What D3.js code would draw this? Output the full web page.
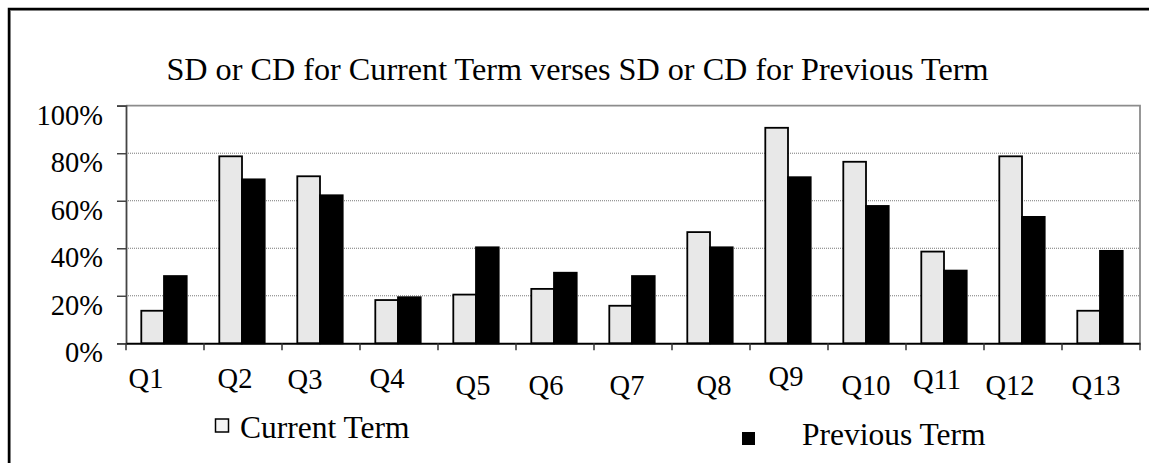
<!DOCTYPE html>
<html>
<head>
<meta charset="utf-8">
<script src="https://cdn.jsdelivr.net/npm/d3@7"></script>
<style>
  html, body { margin: 0; padding: 0; background: #fff; }
  svg { display: block; }
  svg text { font-family: "Liberation Serif", "Times New Roman", serif; }
</style>
</head>
<body>
<div id="chart"></div>
<script>
// chart data
const questions = ["Q1","Q2","Q3","Q4","Q5","Q6","Q7","Q8","Q9","Q10","Q11","Q12","Q13"];
const currentTerm = [13.7, 78.7, 70.3, 18.2, 20.5, 22.9, 15.8, 46.8, 90.7, 76.4, 38.6, 78.7, 13.7];
const previousTerm = [28.3, 69.0, 62.3, 19.4, 40.4, 29.7, 28.3, 40.4, 69.9, 57.8, 30.6, 53.2, 38.9];
const seriesNames = ["Current Term", "Previous Term"];
const yTicks = [0, 20, 40, 60, 80, 100];

// label nudges, the original labels are not centred on their category
const labelShift = [[-19,0],[-8,0],[-16,1],[-12,0],[-4,7],[-9,7],[-6,7],[3,7],[-3,-2],[-1,7],[-8,1],[-13,7],[-5,7]];

const W = 1149, H = 463;
const plot = { left: 126, right: 1140, top: 105.7, bottom: 343.3 };
const serif = '"Liberation Serif", "Times New Roman", serif';

const svg = d3.select("#chart").append("svg")
    .attr("width", W).attr("height", H);

// outer frame (runs off the right / bottom edge like the source)
svg.append("path")
    .attr("d", `M10.5,${H+5} V10.5 H${W+5}`)
    .attr("fill","none").attr("stroke","#aaa").attr("stroke-width",1);
svg.append("path")
    .attr("d", `M9,${H+5} V9 H${W+5}`)
    .attr("fill","none").attr("stroke","#000").attr("stroke-width",2.5);

svg.append("text")
    .attr("x", W/2 + 3).attr("y", 80)
    .attr("text-anchor","middle")
    .attr("font-size", 32.2)
    .text("SD or CD for Current Term verses SD or CD for Previous Term");

const x = d3.scaleBand().domain(questions).range([plot.left, plot.right]).padding(0);
const xs = d3.scaleBand().domain(seriesNames).range([15.3, 60.7]).padding(0);
const y = d3.scaleLinear().domain([0, 100]).range([plot.bottom, plot.top]);

// grid
svg.append("g").selectAll("line")
    .data(yTicks.filter(d => d > 0 && d < 100))
    .enter().append("line")
    .attr("x1", plot.left).attr("x2", plot.right)
    .attr("y1", d => y(d)).attr("y2", d => y(d))
    .attr("stroke","#777").attr("stroke-width",1)
    .attr("stroke-dasharray","1,1");

// plot frame top / right
svg.append("path")
    .attr("d", `M${plot.left},${plot.top} H${plot.right} V${plot.bottom}`)
    .attr("fill","none").attr("stroke","#8c8c8c").attr("stroke-width",1.8);

// bars
const rows = questions.map((q, i) => ({ q, vals: [currentTerm[i], previousTerm[i]] }));
const groups = svg.append("g").selectAll("g")
    .data(rows).enter().append("g")
    .attr("transform", d => `translate(${x(d.q)},0)`);

groups.selectAll("rect")
    .data(d => d.vals.map((v, k) => ({ v, s: seriesNames[k] })))
    .enter().append("rect")
    .attr("x", d => xs(d.s))
    .attr("width", xs.bandwidth())
    .attr("y", d => y(d.v))
    .attr("height", d => y(0) - y(d.v))
    .attr("fill", d => d.s === seriesNames[0] ? "#e8e8e8" : "#000")
    .attr("stroke","#000").attr("stroke-width",1.8);

// y axis
const yAxis = svg.append("g")
    .attr("transform", `translate(${plot.left},0)`)
    .call(d3.axisLeft(y).tickValues(yTicks).tickSize(9).tickPadding(14).tickFormat(d => d + "%"));
yAxis.attr("font-family", serif);
yAxis.select(".domain").attr("stroke","#444").attr("stroke-width",1.8);
yAxis.selectAll(".tick line").attr("stroke","#444").attr("stroke-width",1.5);
yAxis.selectAll(".tick text")
    .attr("font-family", serif)
    .style("font-family", serif)
    .attr("font-size", 28.5)
    .attr("fill","#000")
    .attr("dy", "0.65em");

// x axis
const xAxis = svg.append("g")
    .attr("transform", `translate(0,${plot.bottom})`)
    .call(d3.axisBottom(x).tickSize(0).tickFormat(""));
xAxis.select(".domain").attr("stroke","#000").attr("stroke-width",2);
svg.append("g").selectAll("line")
    .data(d3.range(questions.length + 1))
    .enter().append("line")
    .attr("x1", i => plot.left + i * x.step()).attr("x2", i => plot.left + i * x.step())
    .attr("y1", plot.bottom).attr("y2", plot.bottom + 7)
    .attr("stroke","#333").attr("stroke-width",1.5);

svg.append("g").selectAll("text")
    .data(questions).enter().append("text")
    .attr("x", (d, i) => x(d) + x.bandwidth()/2 + labelShift[i][0])
    .attr("y", (d, i) => 388 + labelShift[i][1])
    .attr("text-anchor","middle")
    .attr("font-size", 28.5)
    .text(d => d);

// legend
const legend = svg.append("g");
legend.append("rect")
    .attr("x", 215.5).attr("y", 419).attr("width", 13).attr("height", 13)
    .attr("fill","#f4f4f4").attr("stroke","#000").attr("stroke-width",1.5);
legend.append("text")
    .attr("x", 240).attr("y", 438.3).attr("font-size", 31.5)
    .text(seriesNames[0]);
legend.append("rect")
    .attr("x", 742).attr("y", 432).attr("width", 13).attr("height", 13)
    .attr("fill","#000");
legend.append("text")
    .attr("x", 802).attr("y", 445).attr("font-size", 31.5)
    .text(seriesNames[1]);
</script>
</body>
</html>
